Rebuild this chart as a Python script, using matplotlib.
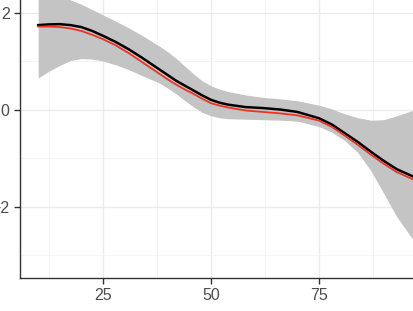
import matplotlib
matplotlib.use("Agg")
import matplotlib.pyplot as plt
import numpy as np

# data
x = [10, 12.5, 15, 17.5, 20, 22.5, 25, 28, 31, 34, 38, 40, 42, 44, 46, 48,
     50, 52, 54, 58, 62, 66, 70, 75, 78, 81, 84, 87, 90, 93, 97]
fit = [1.75, 1.765, 1.77, 1.75, 1.71, 1.63, 1.53, 1.40, 1.25, 1.08, 0.84,
       0.72, 0.60, 0.50, 0.40, 0.30, 0.21, 0.15, 0.11, 0.06, 0.04, 0.01,
       -0.04, -0.17, -0.30, -0.48, -0.66, -0.86, -1.05, -1.22, -1.38]
truth = [1.72, 1.72, 1.71, 1.68, 1.63, 1.55, 1.46, 1.33, 1.17, 0.99, 0.75,
         0.63, 0.52, 0.42, 0.33, 0.23, 0.14, 0.09, 0.05, -0.01, -0.04, -0.07,
         -0.11, -0.22, -0.35, -0.53, -0.72, -0.92, -1.11, -1.28, -1.44]
upper = [2.65, 2.55, 2.42, 2.27, 2.18, 2.07, 1.96, 1.83, 1.69, 1.54, 1.32,
         1.20, 1.06, 0.90, 0.74, 0.60, 0.50, 0.43, 0.38, 0.31, 0.26, 0.23,
         0.19, 0.10, 0.02, -0.08, -0.16, -0.21, -0.20, -0.12, 0.0]
lower = [0.66, 0.80, 0.92, 1.02, 1.06, 1.05, 1.01, 0.93, 0.83, 0.71, 0.56,
         0.45, 0.33, 0.19, 0.06, -0.05, -0.12, -0.16, -0.18, -0.19, -0.20,
         -0.21, -0.23, -0.34, -0.46, -0.63, -0.88, -1.25, -1.72, -2.2, -2.7]

xticks = [25, 50, 75]
yticks = [-2, 0, 2]

plt.rcParams['font.family'] = ['Liberation Sans', 'DejaVu Sans']

fig = plt.figure(figsize=(4.14, 3.11), dpi=100)
ax = fig.add_axes([20/414, 33.3/311, 1 - 20/414, 277.7/311])

ax.fill_between(x, lower, upper, color='#C4C4C4', lw=0, zorder=2)
ax.plot(x, fit, color='black', lw=1.8, zorder=3)
ax.plot(x, truth, color='#F0331F', lw=1.3, zorder=4)

ax.set_xlim(5.79, 97.0)
ax.set_ylim(-3.458, 2.268)
ax.set_xticks(xticks)
ax.set_yticks(yticks)
ax.set_xticks([12.5, 37.5, 62.5, 87.5], minor=True)
ax.set_yticks([-3, -1, 1], minor=True)
ax.grid(which='major', color='#EBEBEB', lw=1.0, zorder=0)
ax.grid(which='minor', color='#F2F2F2', lw=0.6, zorder=0)
ax.set_axisbelow(True)

for s in ['top', 'right']:
    ax.spines[s].set_visible(False)
for s in ['left', 'bottom']:
    ax.spines[s].set_color('#333333')
    ax.spines[s].set_linewidth(1.0)

ax.tick_params(which='major', length=4, width=1, color='#333333',
               labelsize=11.5, labelcolor='#4D4D4D', pad=3.5)
ax.tick_params(which='minor', length=0)

# axis title, mostly below the bottom edge as in the reference
fig.text(213/414, 2/311, 'x', ha='center', va='top', fontsize=12, color='black')

fig.savefig('out.png', dpi=100)
